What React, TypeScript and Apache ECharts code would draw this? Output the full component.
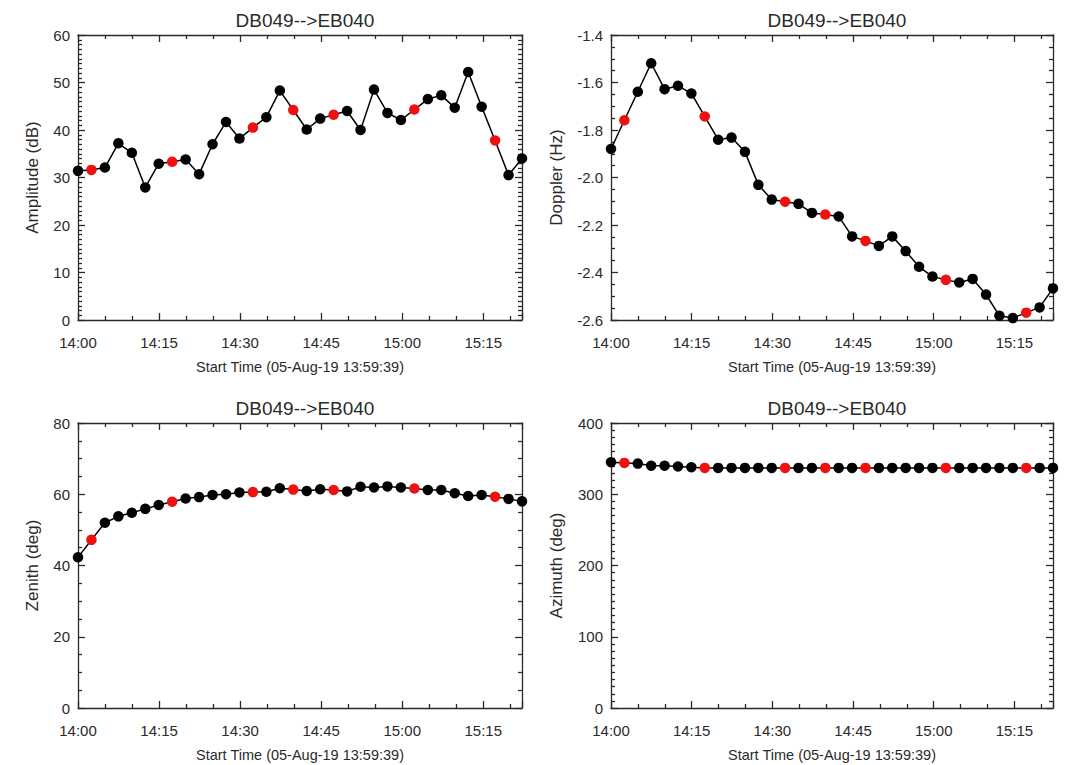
import { useEffect, useRef } from "react";
import * as echarts from "echarts";

// minutes after 14:00 of each measurement
const minutesAfter1400 = [
  0, 2.49, 4.98, 7.47, 9.96, 12.45, 14.94, 17.43, 19.92, 22.41, 24.9, 27.39,
  29.88, 32.37, 34.86, 37.35, 39.84, 42.33, 44.82, 47.31, 49.8, 52.29, 54.78,
  57.27, 59.76, 62.25, 64.74, 67.23, 69.72, 72.21, 74.7, 77.19, 79.68, 82.17,
];
const redIndices = [1, 7, 13, 16, 19, 25, 31];

const amplitude = [
  31.4, 31.6, 32.1, 37.2, 35.2, 27.9, 32.9, 33.3, 33.8, 30.7, 37.0, 41.7, 38.2,
  40.5, 42.7, 48.3, 44.2, 40.1, 42.4, 43.2, 44.0, 40.0, 48.5, 43.6, 42.1, 44.3,
  46.5, 47.3, 44.7, 52.2, 44.9, 37.8, 30.5, 34.0,
];
const doppler = [
  -1.88, -1.759, -1.639, -1.519, -1.628, -1.614, -1.646, -1.743, -1.841,
  -1.832, -1.892, -2.031, -2.093, -2.102, -2.111, -2.149, -2.156, -2.164,
  -2.248, -2.267, -2.288, -2.248, -2.31, -2.376, -2.417, -2.431, -2.442,
  -2.427, -2.493, -2.582, -2.592, -2.569, -2.547, -2.467,
];
const zenith = [
  42.3, 47.2, 52.0, 53.8, 54.8, 55.9, 57.0, 57.9, 58.8, 59.2, 59.8, 60.0, 60.5,
  60.6, 60.7, 61.7, 61.3, 60.9, 61.4, 61.2, 60.8, 62.1, 61.9, 62.2, 61.9, 61.6,
  61.2, 61.2, 60.3, 59.5, 59.8, 59.3, 58.7, 58.0,
];
const azimuth = [
  345, 344, 343, 340, 340, 339, 338, 337, 337, 337, 337, 337, 337, 337, 337,
  337, 337, 337, 337, 337, 337, 337, 337, 337, 337, 337, 337, 337, 337, 337,
  337, 337, 337, 337,
];

const panelTitle = "DB049-->EB040";
const xName = "Start Time (05-Aug-19 13:59:39)";
const xTickInterval = 15;
const xMax = 82.17;

const FONT = "'Liberation Sans', Arial, Helvetica, sans-serif";
const AX = "#2a2a2a";

function timeLabel(v: number): string {
  const total = 14 * 60 + Math.round(v);
  const h = Math.floor(total / 60);
  const m = total % 60;
  return `${h}:${m < 10 ? "0" + m : m}`;
}

function seriesData(values: number[]) {
  return values.map((v, i) => {
    const item: any = { value: [minutesAfter1400[i], v] };
    if (redIndices.includes(i)) item.itemStyle = { color: "#f01010" };
    return item;
  });
}

export default function App() {
  const ref = useRef<HTMLDivElement>(null);
  useEffect(() => {
    if (!ref.current) return;
    const chart = echarts.init(ref.current, undefined, { renderer: "svg" });

    const grids = [
      { left: 78, top: 35, width: 444, height: 285 },
      { left: 611, top: 35, width: 442, height: 285 },
      { left: 78, top: 423, width: 444, height: 285 },
      { left: 611, top: 423, width: 442, height: 285 },
    ];
    const yConf = [
      { name: "Amplitude (dB)", min: 0, max: 60, interval: 10, minor: 10, gap: 37, fmt: (v: number) => String(v), data: amplitude },
      { name: "Doppler (Hz)", min: -2.6, max: -1.4, interval: 0.2, minor: 4, gap: 46, fmt: (v: number) => v.toFixed(1), data: doppler },
      { name: "Zenith (deg)", min: 0, max: 80, interval: 20, minor: 4, gap: 37, fmt: (v: number) => String(v), data: zenith },
      { name: "Azimuth (deg)", min: 0, max: 400, interval: 100, minor: 10, gap: 46, fmt: (v: number) => String(v), data: azimuth },
    ];

    const lineStyle = { color: AX, width: 1.3 };
    const xAxis: any[] = [];
    const yAxis: any[] = [];
    const series: any[] = [];

    grids.forEach((_, g) => {
      xAxis.push({
        type: "value",
        gridIndex: g,
        position: "bottom",
        min: 0,
        max: xMax,
        interval: xTickInterval,
        name: xName,
        nameLocation: "middle",
        nameGap: 39,
        nameTextStyle: { fontFamily: FONT, fontSize: 14.5, color: AX },
        axisLine: { show: true, onZero: false, lineStyle },
        axisTick: { show: true, inside: true, length: 7, lineStyle },
        minorTick: { show: true, splitNumber: 3, length: 4, lineStyle },
        axisLabel: {
          show: true,
          margin: 15,
          showMaxLabel: false,
          fontFamily: FONT,
          fontSize: 15,
          color: AX,
          formatter: timeLabel,
        },
        splitLine: { show: false },
      });
      xAxis.push({
        type: "value",
        gridIndex: g,
        position: "top",
        min: 0,
        max: xMax,
        interval: xTickInterval,
        axisLine: { show: true, onZero: false, lineStyle },
        axisTick: { show: true, inside: true, length: 7, lineStyle },
        minorTick: { show: true, splitNumber: 3, length: 4, lineStyle },
        axisLabel: { show: false },
        splitLine: { show: false },
      });
      const c = yConf[g];
      yAxis.push({
        type: "value",
        gridIndex: g,
        position: "left",
        min: c.min,
        max: c.max,
        interval: c.interval,
        name: c.name,
        nameLocation: "middle",
        nameGap: c.gap,
        nameRotate: 90,
        nameTextStyle: { fontFamily: FONT, fontSize: 17, color: AX },
        axisLine: { show: true, onZero: false, lineStyle },
        axisTick: { show: true, inside: true, length: 7, lineStyle },
        minorTick: { show: true, splitNumber: c.minor, length: 4, lineStyle },
        axisLabel: { show: true, margin: 8, fontFamily: FONT, fontSize: 15, color: AX, formatter: c.fmt },
        splitLine: { show: false },
      });
      yAxis.push({
        type: "value",
        gridIndex: g,
        position: "right",
        min: c.min,
        max: c.max,
        interval: c.interval,
        axisLine: { show: true, onZero: false, lineStyle },
        axisTick: { show: true, inside: true, length: 7, lineStyle },
        minorTick: { show: true, splitNumber: c.minor, length: 4, lineStyle },
        axisLabel: { show: false },
        splitLine: { show: false },
      });
      series.push({
        type: "line",
        xAxisIndex: g * 2,
        yAxisIndex: g * 2,
        data: seriesData(c.data),
        symbol: "circle",
        symbolSize: 10.5,
        showAllSymbol: true,
        clip: true,
        lineStyle: { color: "#000", width: 1.5 },
        itemStyle: { color: "#000" },
      });
    });

    const titleCenters = [
      [300, 6],
      [832, 6],
      [300, 394],
      [832, 394],
    ];

    chart.setOption({
      animation: false,
      backgroundColor: "#fff",
      title: titleCenters.map(([x, y]) => ({
        text: panelTitle,
        left: x,
        top: y,
        textAlign: "center",
        textStyle: { fontFamily: FONT, fontSize: 19, fontWeight: "normal", color: AX },
      })),
      grid: grids,
      xAxis,
      yAxis,
      series,
    });
    return () => chart.dispose();
  }, []);

  return (
    <div
      ref={ref}
      style={{ position: "absolute", left: 0, top: 0, width: 1069, height: 765 }}
    />
  );
}
